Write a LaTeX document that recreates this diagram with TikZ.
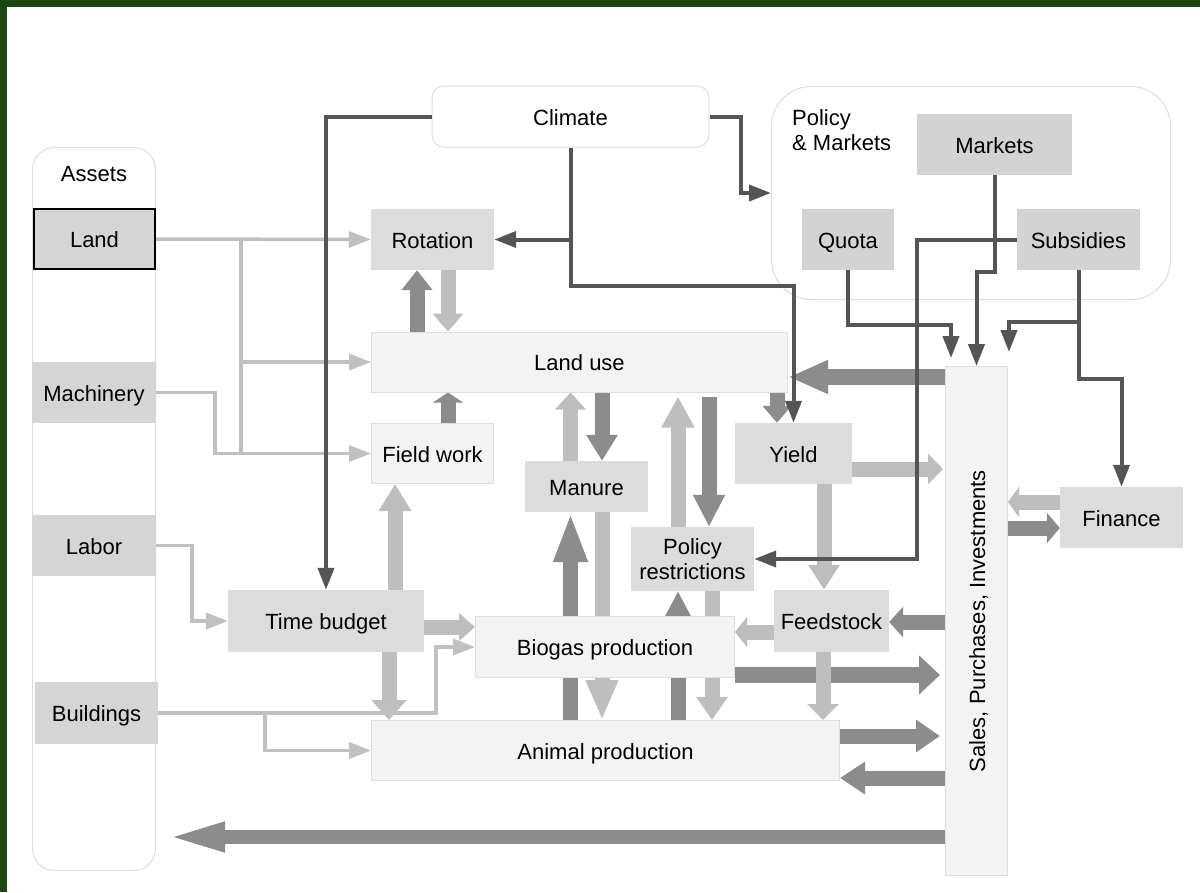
\documentclass[tikz,border=0pt]{standalone}
\usepackage{fontspec}
\setmainfont{Liberation Sans}
\usetikzlibrary{arrows.meta,calc}
\definecolor{frame}{RGB}{27,70,16}
\definecolor{gA}{RGB}{213,213,213}
\definecolor{gM}{RGB}{211,211,211}
\definecolor{gB}{RGB}{220,220,220}
\definecolor{gL}{RGB}{243,243,243}
\definecolor{gE}{RGB}{222,222,222}
\definecolor{fd}{RGB}{140,140,140}
\definecolor{fl}{RGB}{190,190,190}
\definecolor{ld}{RGB}{85,85,85}
\definecolor{ll}{RGB}{192,192,192}
\pgfdeclarelayer{bg}
\pgfdeclarelayer{arr}
\pgfsetlayers{bg,arr,main}
\begin{document}
\begin{tikzpicture}[x=1pt,y=-1pt,
  every node/.style={font=\fontsize{22}{25}\selectfont, inner sep=0pt, align=center, text=black},
  oneline/.style={text height=17pt, text depth=0pt},
  cont/.style={draw=gE, line width=1pt, fill=white},
  assetbox/.style={oneline, fill=gA, minimum width=124pt, minimum height=61pt},
  pmbox/.style={oneline, fill=gM, minimum height=61pt},
  midbox/.style={oneline, fill=gB, minimum height=61pt},
  lightbox/.style={oneline, fill=gL, draw=gE, line width=1pt, minimum height=60pt},
  fat/.style n args={3}{draw=#1, line width=15pt, -{Triangle[length=#2,width=#3]}},
  thinD/.style={draw=ld, line width=4pt, -{Triangle[length=22pt,width=16pt]}},
  thinDn/.style={draw=ld, line width=4pt},
  thinL/.style={draw=ll, line width=3.5pt, -{Triangle[length=22pt,width=16pt]}},
  thinLn/.style={draw=ll, line width=3.5pt},
]
\useasboundingbox (0,0) rectangle (1200,892);

% background and containers
\begin{pgfonlayer}{bg}
\fill[white] (0,0) rectangle (1200,892);
\fill[frame] (0,0) rectangle (1200,7);
\fill[frame] (0,0) rectangle (7,892);
\node[cont, rounded corners=22pt, minimum width=123pt, minimum height=723pt] (assets) at (94,509) {};
\node[cont, rounded corners=40pt, minimum width=399pt, minimum height=213pt] (pm) at (971,193) {};
\end{pgfonlayer}
\node[oneline] (assetsl) at (94,173) {Assets};
\node[anchor=west, align=left] (pml) at (792,130) {Policy\\\& Markets};

% assets
\node[assetbox, draw=black, line width=2pt, minimum width=121pt, minimum height=60pt] (land) at (94.5,239) {Land};
\node[assetbox] (mach) at (94,392.5) {Machinery};
\node[assetbox] (lab) at (94,545.5) {Labor};
\node[assetbox, minimum width=123pt, minimum height=62pt] (bld) at (96.5,713) {Buildings};

% top
\node[cont, oneline, rounded corners=12pt, minimum width=277pt, minimum height=61pt] (clim) at (570.5,116.5) {Climate};
\node[pmbox, minimum width=155pt] (mk) at (994.5,144.5) {Markets};
\node[pmbox, minimum width=92pt] (quo) at (848,239.5) {Quota};
\node[pmbox, minimum width=123pt] (sub) at (1078.5,239.5) {Subsidies};

% middle boxes
\node[midbox, minimum width=123pt] (rot) at (432.5,239.5) {Rotation};
\node[lightbox, minimum width=416pt] (lu) at (579.5,362) {Land use};
\node[lightbox, minimum width=122pt] (fw) at (432.5,453.5) {Field work};
\node[midbox, minimum width=123pt, minimum height=51pt] (man) at (586.5,486.5) {Manure};
\node[midbox, text height={}, text depth={}, minimum width=123pt, minimum height=64pt] (pr) at (692.5,559) {Policy\\restrictions};
\node[midbox, minimum width=117pt] (yld) at (793.5,453.5) {Yield};
\node[midbox, minimum width=115pt, minimum height=62pt] (fs) at (831.5,621) {Feedstock};
\node[midbox, minimum width=196pt, minimum height=62pt] (tb) at (326,621) {Time budget};
\node[lightbox, minimum width=259pt, minimum height=61pt] (bio) at (605,647) {Biogas production};
\node[lightbox, minimum width=468pt] (ap) at (605.5,750.5) {Animal production};
\node[lightbox, minimum width=62pt, minimum height=509pt] (sales) at (976.5,621) {};
\node[oneline, rotate=90] (salesl) at (976.5,621) {Sales, Purchases, Investments};
\node[midbox, minimum width=123pt] (fin) at (1121.5,517.5) {Finance};

% thick arrows
\begin{pgfonlayer}{arr}
\draw[fat={fd}{20pt}{30pt}] (lu.north -| 417,0) -- (rot.south -| 417,0);
\draw[fat={fl}{18pt}{30pt}] (rot.south -| 448,0) -- (lu.north -| 448,0);
\draw[fat={fd}{10pt}{30pt}] (fw.north -| 448,0) -- (lu.south -| 448,0);
\draw[fat={fl}{27pt}{31pt}] (tb.north -| 395,0) -- (fw.south -| 395,0);
\draw[fat={fl}{16pt}{27pt}] (tb.east |- 0,627) -- (bio.west |- 0,627);
\draw[fat={fl}{20pt}{34pt}] (tb.south -| 389,0) -- (ap.north -| 389,0);
\draw[fat={fl}{17pt}{30pt}] (man.north -| 570.5,0) -- (lu.south -| 570.5,0);
\draw[fat={fd}{26pt}{30pt}] (lu.south -| 602,0) -- (man.north -| 602,0);
\draw[fat={fd}{50pt}{31pt}] (ap.north -| 570.5,0) -- (man.south -| 570.5,0);
\draw[fat={fl}{40pt}{30pt}] (man.south -| 602,0) -- (ap.north -| 602,0);
\draw[fat={fl}{31pt}{31pt}, shorten >=4pt] (pr.north -| 678,0) -- (lu.south -| 678,0);
\draw[fat={fd}{32pt}{30pt}, shorten <=4pt] (lu.south -| 709,0) -- (pr.north -| 709,0);
\draw[fat={fd}{25pt}{24pt}] (ap.north -| 678,0) -- (pr.south -| 678,0);
\draw[fat={fl}{23pt}{30pt}] (pr.south -| 712,0) -- (ap.north -| 712,0);
\draw[fat={fd}{17pt}{28pt}] (lu.south -| 777,0) -- (yld.north -| 777,0);
\draw[fat={fl}{15pt}{30pt}, shorten >=2pt] (yld.east |- 0,469) -- (sales.west |- 0,469);
\draw[fat={fl}{25pt}{30pt}] (yld.south -| 824,0) -- (fs.north -| 824,0);
\draw[fat={fd}{40pt}{31pt}, line width=16pt] (sales.west |- 0,377) -- (lu.east |- 0,377);
\draw[fat={fd}{14pt}{30pt}] (sales.west |- 0,622) -- (fs.east |- 0,622);
\draw[fat={fl}{12pt}{30pt}] (fs.west |- 0,632) -- (bio.east |- 0,632);
\draw[fat={fd}{21pt}{38pt}, line width=16pt, shorten >=5pt] (bio.east |- 0,675) -- (sales.west |- 0,675);
\draw[fat={fl}{16pt}{31pt}] (fs.south -| 823,0) -- (ap.north -| 823,0);
\draw[fat={fd}{24pt}{31pt}, shorten >=5pt] (ap.east |- 0,736) -- (sales.west |- 0,736);
\draw[fat={fd}{25pt}{31pt}] (sales.west |- 0,778) -- (ap.east |- 0,778);
\draw[fat={fd}{61pt}{26pt}, line width=14pt, shorten >=8pt] (sales.west |- 0,837) -- (assets.east |- 0,837);
\draw[fat={fl}{11pt}{30pt}] (fin.west |- 0,502) -- (sales.east |- 0,502);
\draw[fat={fd}{13pt}{30pt}] (sales.east |- 0,528) -- (fin.west |- 0,528);
\end{pgfonlayer}

% thin light connectors
\coordinate (jL) at (241,240);
\coordinate (jB) at (265,713);
\draw[thinL] (land.east) -- (rot.west);
\draw[thinLn] (jL) -- (241,453);
\draw[thinL] (241,0 |- lu.west) -- (lu.west);
\draw[thinL] (mach.east) -- (215,0 |- mach.east) |- (fw.west);
\draw[thinL] (lab.east) -- (192,0 |- lab.east) |- (tb.west);
\draw[thinL] (bld.east) -- (436,0 |- bld.east) |- (bio.west);
\draw[thinL] (jB) |- (ap.west);

% thin dark connectors
\coordinate (qend) at (951,358);
\coordinate (send) at (1009,352);
\draw[thinD] (clim.west) -| (tb.north);
\draw[thinD] (clim.south) |- (rot.east);
\draw[thinD] (clim.south) |- (yld.north |- 0,286) -- (yld.north);
\draw[thinD] (clim.east) -- (741,0 |- clim.east) |- (pm.west);
\draw[thinD] (quo.south) |- (qend |- 0,325) -- (qend);
\draw[thinD] (mk.south) -- (mk.south |- 0,272) -| (sales.north);
\draw[thinD] (sub.west) -| (917,0 |- pr.east) -- (pr.east);
\draw[thinD] (sub.south) |- (send |- 0,322) -- (send);
\draw[thinD] (sub.south) |- (fin.north |- 0,379) -- (fin.north);
\end{tikzpicture}
\end{document}
